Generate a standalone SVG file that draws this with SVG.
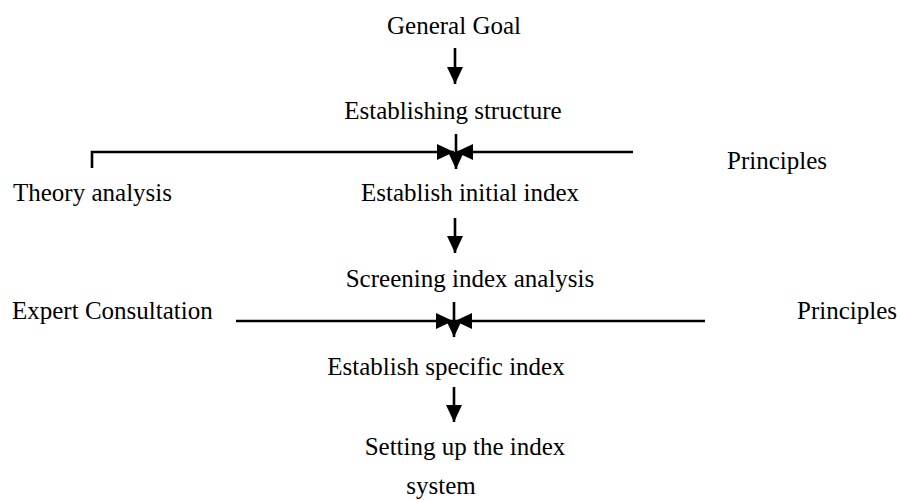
<svg xmlns="http://www.w3.org/2000/svg" width="897" height="501" viewBox="0 0 897 501">
<style>
text{font-family:"Liberation Serif","Times New Roman",serif;font-size:25px;fill:#000}
.c{stroke:#000;stroke-width:2.6;fill:none}
</style>
<defs>
<marker id="ah" markerUnits="userSpaceOnUse" markerWidth="17" markerHeight="16" refX="17" refY="8" orient="auto" viewBox="0 0 17 16">
<path d="M0,0 L17,8 L0,16 z" fill="#000"/>
</marker>
</defs>
<rect width="897" height="501" fill="#fff"/>
<g id="connectors">
<line class="c" x1="455" y1="48" x2="455" y2="84" marker-end="url(#ah)"/>
<line class="c" x1="456" y1="134" x2="456" y2="169" marker-end="url(#ah)"/>
<polyline class="c" points="92,168 92,152 454,152" marker-end="url(#ah)"/>
<line class="c" x1="633" y1="152" x2="456" y2="152" marker-end="url(#ah)"/>
<line class="c" x1="455" y1="218" x2="455" y2="253" marker-end="url(#ah)"/>
<line class="c" x1="454" y1="302" x2="454" y2="337" marker-end="url(#ah)"/>
<line class="c" x1="236" y1="321" x2="453" y2="321" marker-end="url(#ah)"/>
<line class="c" x1="705" y1="321" x2="455" y2="321" marker-end="url(#ah)"/>
<line class="c" x1="454" y1="387" x2="454" y2="422" marker-end="url(#ah)"/>
</g>
<g id="general-goal"><text x="454" y="34" text-anchor="middle">General Goal</text></g>
<g id="establishing-structure"><text x="453" y="119" text-anchor="middle">Establishing structure</text></g>
<g id="principles-1"><text x="727" y="169">Principles</text></g>
<g id="theory-analysis"><text x="13" y="201">Theory analysis</text></g>
<g id="establish-initial-index"><text x="470" y="201" text-anchor="middle">Establish initial index</text></g>
<g id="screening-index-analysis"><text x="470" y="287" text-anchor="middle">Screening index analysis</text></g>
<g id="expert-consultation"><text x="12" y="319">Expert Consultation</text></g>
<g id="principles-2"><text x="797" y="319">Principles</text></g>
<g id="establish-specific-index"><text x="446" y="375" text-anchor="middle">Establish specific index</text></g>
<g id="setting-up"><text x="465" y="455" text-anchor="middle">Setting up the index</text><text x="441" y="494" text-anchor="middle">system</text></g>
</svg>
